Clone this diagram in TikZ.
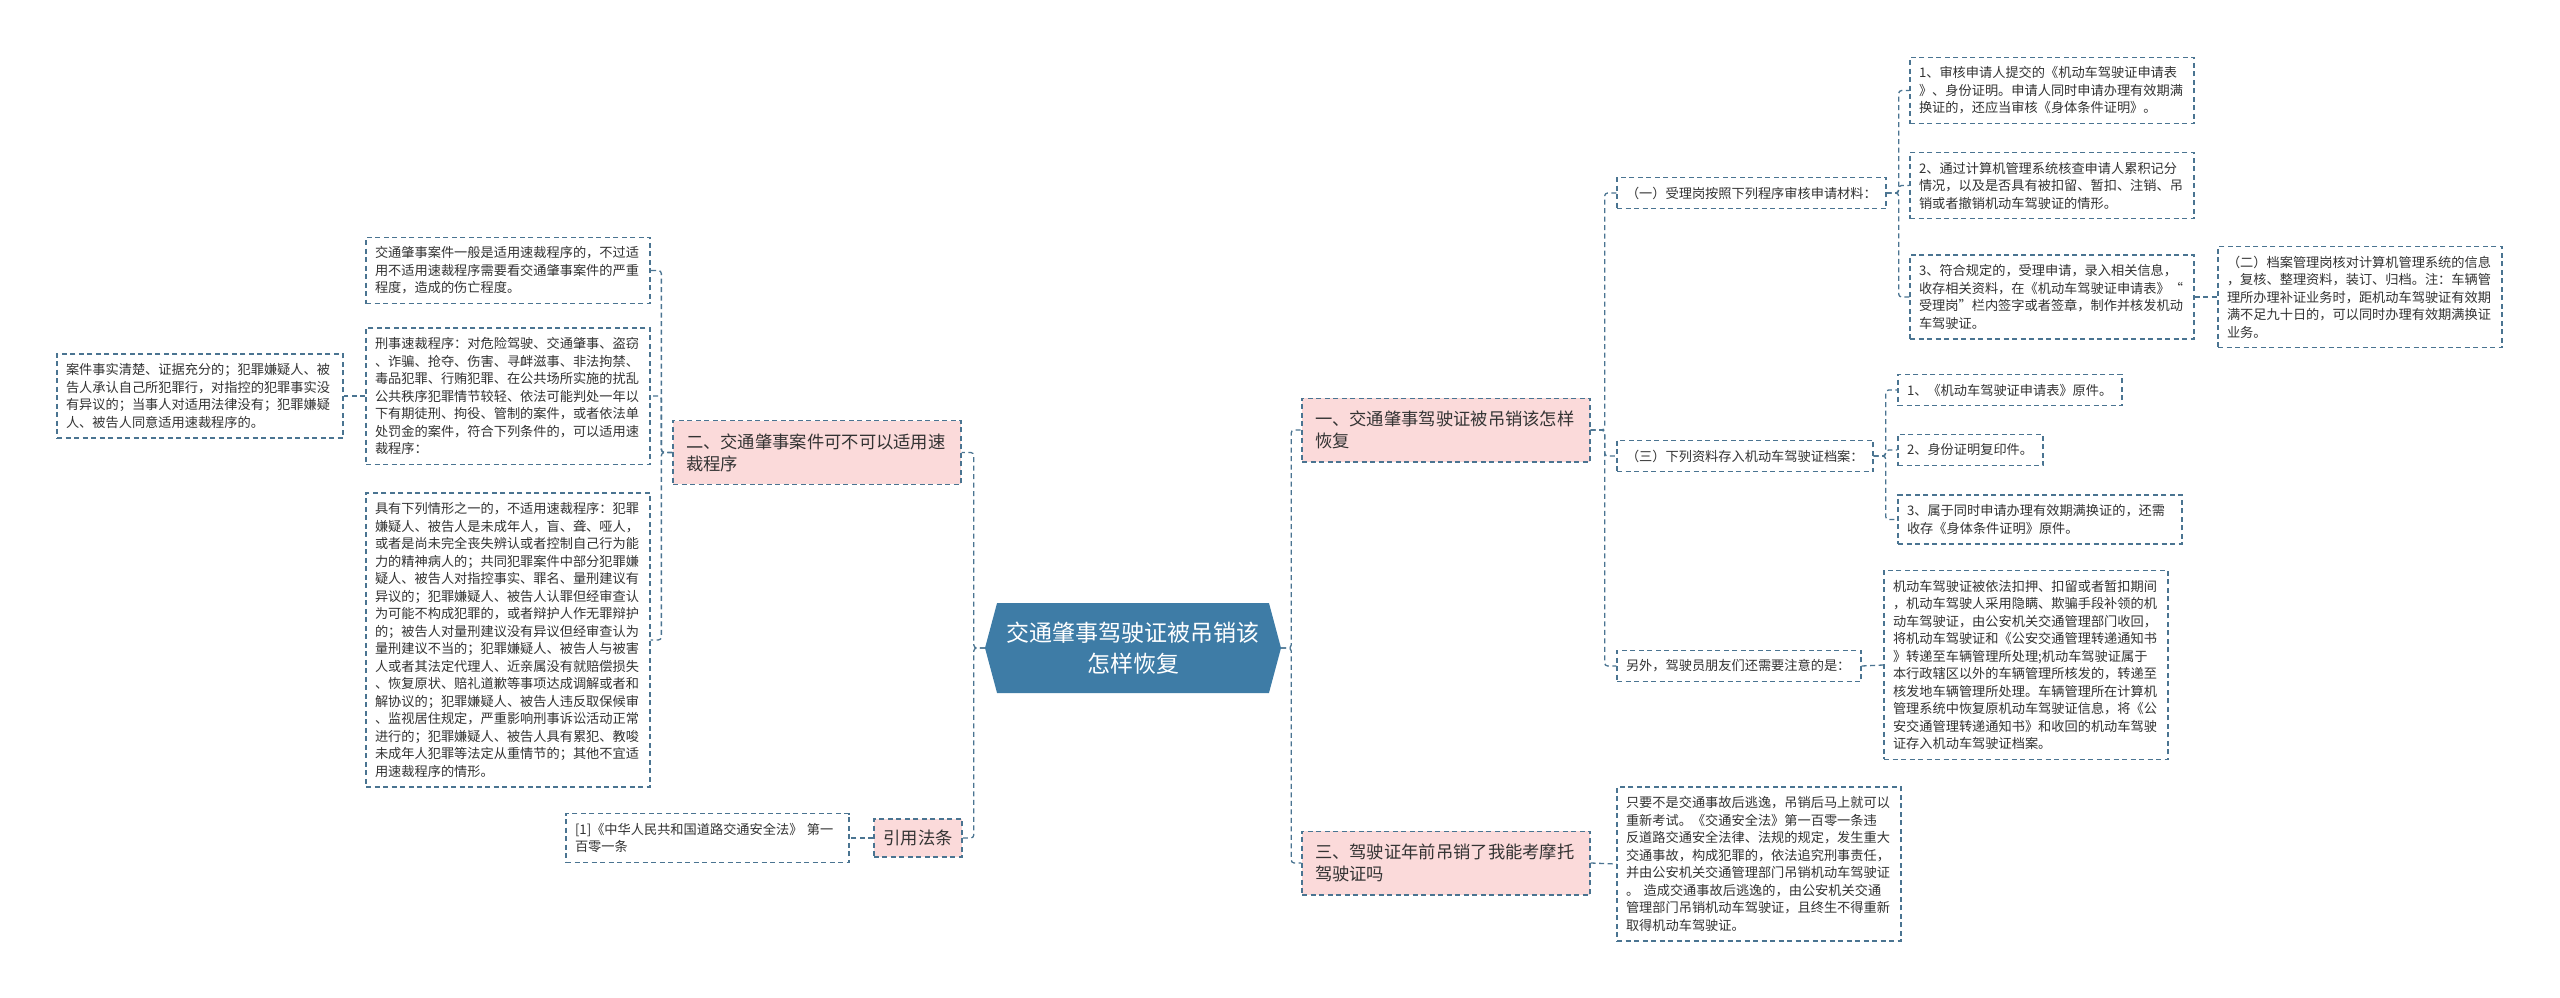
\documentclass[tikz,border=0pt]{standalone}
\usepackage{fontspec}
\usepackage{xcolor}
\setmainfont{Noto Sans CJK SC}
\usetikzlibrary{shapes.symbols,positioning}

\definecolor{linec}{HTML}{4A7491}
\definecolor{rootc}{HTML}{3E7CA6}
\definecolor{pinkc}{HTML}{FBDADA}
\definecolor{textc}{HTML}{333333}

\newcommand{\leaffont}{\fontsize{13.2}{17.5}\selectfont}
\newcommand{\branchfont}{\fontsize{17.3}{22}\selectfont}
\newcommand{\rootfont}{\fontsize{23}{31}\selectfont}

\begin{document}
\begin{tikzpicture}[
    x=1pt, y={(0pt,-1pt)},
    leaf/.style={draw=linec, dash pattern=on 5pt off 3.5pt, line width=1.3pt, fill=white, text=textc, align=left, inner xsep=9pt, inner ysep=9.5pt, font=\leaffont},
    branch/.style={draw=linec, dash pattern=on 5pt off 3.5pt, line width=1.3pt, fill=pinkc, text=textc, align=left, inner xsep=13pt, inner ysep=12.8pt, font=\branchfont},
    link/.style={draw=linec, dash pattern=on 5pt off 3.5pt, line width=1.3pt, rounded corners=3pt}
]

\fill[white] (0,0) rectangle (2560,998);

% root
\node[shape=signal, signal to=east and west, signal pointer angle=150, fill=rootc, text=white, font=\rootfont, align=center, minimum width=296pt, minimum height=90pt, inner sep=4pt] (root) at (1133,648) {交通肇事驾驶证被吊销该\\怎样恢复};

% left branch
\node[branch, text width=262pt] (two) at (817,452.5) {二、交通肇事案件可不可以适用速\\裁程序};
\node[branch, inner xsep=9.5pt, inner ysep=11pt] (law) at (918,838) {引用法条};

\node[leaf, text width=266pt] (fast1) at (508,270.5) {交通肇事案件一般是适用速裁程序的，不过适\\用不适用速裁程序需要看交通肇事案件的严重\\程度，造成的伤亡程度。};
\node[leaf, text width=266pt] (fast2) at (508,396) {刑事速裁程序：对危险驾驶、交通肇事、盗窃\\、诈骗、抢夺、伤害、寻衅滋事、非法拘禁、\\毒品犯罪、行贿犯罪、在公共场所实施的扰乱\\公共秩序犯罪情节较轻、依法可能判处一年以\\下有期徒刑、拘役、管制的案件，或者依法单\\处罚金的案件，符合下列条件的，可以适用速\\裁程序：};
\node[leaf, text width=268pt] (cond) at (200,396) {案件事实清楚、证据充分的；犯罪嫌疑人、被\\告人承认自己所犯罪行，对指控的犯罪事实没\\有异议的；当事人对适用法律没有；犯罪嫌疑\\人、被告人同意适用速裁程序的。};
\node[leaf, text width=266pt] (fast3) at (508,640) {具有下列情形之一的，不适用速裁程序：犯罪\\嫌疑人、被告人是未成年人，盲、聋、哑人，\\或者是尚未完全丧失辨认或者控制自己行为能\\力的精神病人的；共同犯罪案件中部分犯罪嫌\\疑人、被告人对指控事实、罪名、量刑建议有\\异议的；犯罪嫌疑人、被告人认罪但经审查认\\为可能不构成犯罪的，或者辩护人作无罪辩护\\的；被告人对量刑建议没有异议但经审查认为\\量刑建议不当的；犯罪嫌疑人、被告人与被害\\人或者其法定代理人、近亲属没有就赔偿损失\\、恢复原状、赔礼道歉等事项达成调解或者和\\解协议的；犯罪嫌疑人、被告人违反取保候审\\、监视居住规定，严重影响刑事诉讼活动正常\\进行的；犯罪嫌疑人、被告人具有累犯、教唆\\未成年人犯罪等法定从重情节的；其他不宜适\\用速裁程序的情形。};
\node[leaf, text width=265pt] (lawref) at (707.5,838) {[1]《中华人民共和国道路交通安全法》 第一\\百零一条};

\draw[link] (root.west) -- ++(-11,0) |- (two.east);
\draw[link] (root.west) -- ++(-11,0) |- (law.east);
\draw[link] (two.west) -- ++(-11,0) |- (fast1.east);
\draw[link] (two.west) -- ++(-11,0) |- (fast2.east);
\draw[link] (two.west) -- ++(-11,0) |- (fast3.east);
\draw[link] (fast2.west) -- (cond.east);
\draw[link] (law.west) -- (lawref.east);

% right branch
\node[branch, text width=262pt] (one) at (1446,430) {一、交通肇事驾驶证被吊销该怎样\\恢复};
\node[branch, text width=262pt] (three) at (1446,863) {三、驾驶证年前吊销了我能考摩托\\驾驶证吗};

\node[leaf, text width=266pt] (retest) at (1759,864) {只要不是交通事故后逃逸，吊销后马上就可以\\重新考试。《交通安全法》第一百零一条违\\反道路交通安全法律、法规的规定，发生重大\\交通事故，构成犯罪的，依法追究刑事责任，\\并由公安机关交通管理部门吊销机动车驾驶证\\。 造成交通事故后逃逸的，由公安机关交通\\管理部门吊销机动车驾驶证，且终生不得重新\\取得机动车驾驶证。};

\node[leaf, text width=251pt] (step1) at (1751.5,193) {（一）受理岗按照下列程序审核申请材料：};
\node[leaf, text width=238pt] (step3) at (1745,456) {（三）下列资料存入机动车驾驶证档案：};
\node[leaf, text width=226pt] (note) at (1739,666) {另外，驾驶员朋友们还需要注意的是：};

\node[leaf, text width=266pt] (chk1) at (2052,90.5) {1、审核申请人提交的《机动车驾驶证申请表\\》、身份证明。申请人同时申请办理有效期满\\换证的，还应当审核《身体条件证明》。};
\node[leaf, text width=266pt] (chk2) at (2052,185.5) {2、通过计算机管理系统核查申请人累积记分\\情况，以及是否具有被扣留、暂扣、注销、吊\\销或者撤销机动车驾驶证的情形。};
\node[leaf, text width=266pt] (chk3) at (2052,297) {3、符合规定的，受理申请，录入相关信息，\\收存相关资料，在《机动车驾驶证申请表》“\\受理岗”栏内签字或者签章，制作并核发机动\\车驾驶证。};
\node[leaf, text width=266pt] (step2) at (2360,297) {（二）档案管理岗核对计算机管理系统的信息\\，复核、整理资料，装订、归档。注：车辆管\\理所办理补证业务时，距机动车驾驶证有效期\\满不足九十日的，可以同时办理有效期满换证\\业务。};

\node[leaf, text width=206pt] (file1) at (2010,390) {1、《机动车驾驶证申请表》原件。};
\node[leaf, text width=127pt] (file2) at (1970.5,450) {2、身份证明复印件。};
\node[leaf, text width=266pt] (file3) at (2040,519.5) {3、属于同时申请办理有效期满换证的，还需\\收存《身体条件证明》原件。};

\node[leaf, text width=266pt] (detain) at (2026,665) {机动车驾驶证被依法扣押、扣留或者暂扣期间\\，机动车驾驶人采用隐瞒、欺骗手段补领的机\\动车驾驶证，由公安机关交通管理部门收回，\\将机动车驾驶证和《公安交通管理转递通知书\\》转递至车辆管理所处理;机动车驾驶证属于\\本行政辖区以外的车辆管理所核发的，转递至\\核发地车辆管理所处理。车辆管理所在计算机\\管理系统中恢复原机动车驾驶证信息，将《公\\安交通管理转递通知书》和收回的机动车驾驶\\证存入机动车驾驶证档案。};

\draw[link] (root.east) -- ++(10,0) |- (one.west);
\draw[link] (root.east) -- ++(10,0) |- (three.west);
\draw[link] (three.east) -- (retest.west);
\draw[link] (one.east) -- ++(14,0) |- (step1.west);
\draw[link] (one.east) -- ++(14,0) |- (step3.west);
\draw[link] (one.east) -- ++(14,0) |- (note.west);
\draw[link] (step1.east) -- ++(12,0) |- (chk1.west);
\draw[link] (step1.east) -- ++(12,0) |- (chk2.west);
\draw[link] (step1.east) -- ++(12,0) |- (chk3.west);
\draw[link] (chk3.east) -- (step2.west);
\draw[link] (step3.east) -- ++(12,0) |- (file1.west);
\draw[link] (step3.east) -- ++(12,0) |- (file2.west);
\draw[link] (step3.east) -- ++(12,0) |- (file3.west);
\draw[link] (note.east) -- (detain.west);

\end{tikzpicture}
\end{document}
